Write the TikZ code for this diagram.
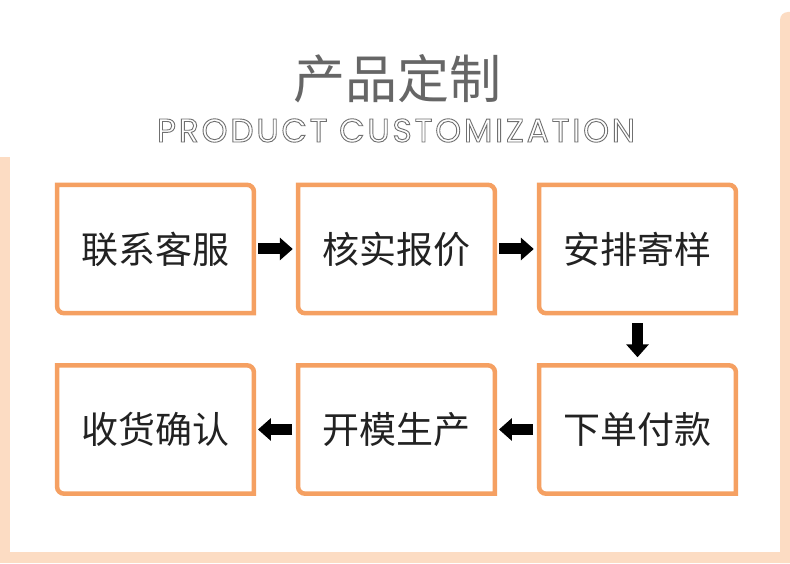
\documentclass[tikz,border=0pt]{standalone}
\usepackage{fontspec}
\usetikzlibrary{arrows.meta}
\newfontfamily\cjkfont{Noto Sans CJK SC}
\newfontfamily\subfont{Poppins}[LetterSpace=8.4]
\definecolor{peach}{HTML}{FCDCC3}
\definecolor{boxorange}{HTML}{F5A062}
\definecolor{titlegray}{HTML}{666666}
\definecolor{subgray}{HTML}{707070}
\definecolor{boxtext}{HTML}{222222}
\tikzset{
  stepbox/.style={minimum width=196.5pt, minimum height=128pt, inner sep=0pt,
    font=\cjkfont\fontsize{37}{37}\selectfont, text=boxtext},
  boxborder/.style={draw=boxorange, line width=4.5pt, line join=miter},
  blockarrow/.style={line width=11pt, black, -{Triangle[length=13pt,width=22pt]}}
}
\begin{document}
\begin{tikzpicture}[x=1pt,y=1pt]
\useasboundingbox (0,0) rectangle (790,563);
% background
\fill[white] (0,0) rectangle (790,563);
\fill[peach] (0,0) rectangle (790,11);
\fill[peach] (0,0) rectangle (10,406);
\fill[peach] (780,0) -- (780,543) arc[start angle=180,end angle=90,radius=8pt] -- (790,551) -- (790,0) -- cycle;
% titles
\node[font=\cjkfont\fontsize{52}{52}\selectfont, text=titlegray] (title) at (397.5,484) {产品定制};
\node[font=\subfont\fontsize{33}{33}\selectfont, text=subgray] (subtitle) at (396,432.5)
  {\special{pdf:literal direct 1 Tr 0.9 w}PRODUCT CUSTOMIZATION\special{pdf:literal direct 0 Tr}};
% boxes
\node[stepbox] (s1) at (155.5,314) {联系客服};
\node[stepbox] (s2) at (396.5,314) {核实报价};
\node[stepbox] (s3) at (637.5,314) {安排寄样};
\node[stepbox] (s4) at (637.5,133.5) {下单付款};
\node[stepbox] (s5) at (396.5,133.5) {开模生产};
\node[stepbox] (s6) at (155.5,133.5) {收货确认};
\foreach \n in {s1,s2,s3,s4,s5,s6}{
  \draw[boxborder] (\n.north west) -- ([xshift=-7pt]\n.north east)
    arc[start angle=90,end angle=0,radius=7pt] -- (\n.south east)
    -- ([xshift=7pt]\n.south west) arc[start angle=270,end angle=180,radius=7pt] -- cycle;
}
% arrows
\draw[blockarrow] ([xshift=4.25pt]s1.east) -- ([xshift=-5.25pt]s2.west);
\draw[blockarrow] ([xshift=4.25pt]s2.east) -- ([xshift=-5.25pt]s3.west);
\draw[blockarrow] ([yshift=-10pt]s3.south) -- ([yshift=8pt]s4.north);
\draw[blockarrow] ([xshift=-6pt]s4.west) -- ([xshift=4pt]s5.east);
\draw[blockarrow] ([xshift=-6pt]s5.west) -- ([xshift=4pt]s6.east);
\end{tikzpicture}
\end{document}
